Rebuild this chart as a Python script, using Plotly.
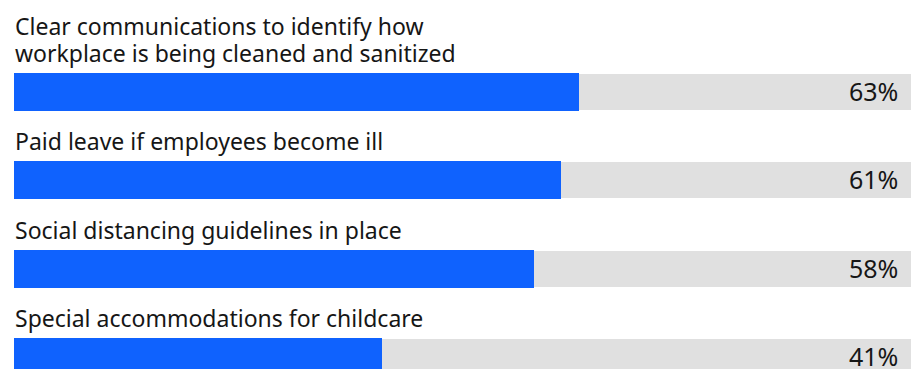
import plotly.graph_objects as go

# Survey responses: share of employees citing each measure
categories = [
    "Clear communications to identify how<br>workplace is being cleaned and sanitized",
    "Paid leave if employees become ill",
    "Social distancing guidelines in place",
    "Special accommodations for childcare",
]
values = [63, 61, 58, 41]
full_scale = [100, 100, 100, 100]

W, H = 916, 369
LEFT_PX, RIGHT_PX = 14, 911          # pixel span of the 0..100 track
ROW_PX, FIRST_CENTER_PX = 88.3, 92   # row pitch and first bar centre
LINE_PX = 26.5                       # line pitch of wrapped category text

px_per_unit = (RIGHT_PX - LEFT_PX) / 100.0
x_range = [-LEFT_PX / px_per_unit, (W - LEFT_PX) / px_per_unit]
y_range = [(H - FIRST_CENTER_PX) / ROW_PX, -FIRST_CENTER_PX / ROW_PX]

BLUE = "#0f62fe"
TRACK = "#e0e0e0"
INK = "#161616"
FONT = "Noto Sans"

idx = list(range(len(categories)))

fig = go.Figure()
fig.add_trace(go.Bar(
    x=full_scale, y=idx, orientation="h", base=0,
    marker=dict(color=TRACK, line=dict(width=0)),
    width=36 / ROW_PX, hoverinfo="skip", showlegend=False,
))
fig.add_trace(go.Bar(
    x=values, y=idx, orientation="h", base=0,
    marker=dict(color=BLUE, line=dict(width=0)),
    width=38 / ROW_PX, hoverinfo="skip", showlegend=False,
))

bar_half = 19 / ROW_PX
for i, (cat, v) in enumerate(zip(categories, values)):
    # category text sits just above its bar, one annotation per line
    lines = cat.split("<br>")
    for k, line in enumerate(reversed(lines)):
        fig.add_annotation(
            x=0, y=i - bar_half, xref="x", yref="y",
            text=line, showarrow=False, xanchor="left", yanchor="bottom",
            align="left", font=dict(family=FONT, size=23, color=INK),
            xshift=0, yshift=3 + k * LINE_PX, borderpad=0,
        )
    # value label right-aligned inside the track
    fig.add_annotation(
        x=100, y=i, xref="x", yref="y",
        text=f"{v}%", showarrow=False, xanchor="right", yanchor="middle",
        font=dict(family=FONT, size=25, color=INK),
        xshift=-12, yshift=1, borderpad=0,
    )

fig.update_layout(
    width=W, height=H,
    margin=dict(l=0, r=0, t=0, b=0),
    paper_bgcolor="white", plot_bgcolor="white",
    barmode="overlay", bargap=0,
    xaxis=dict(range=x_range, visible=False, fixedrange=True),
    yaxis=dict(range=y_range, visible=False, fixedrange=True),
)

fig.write_html("out.html", config={"displayModeBar": False})
